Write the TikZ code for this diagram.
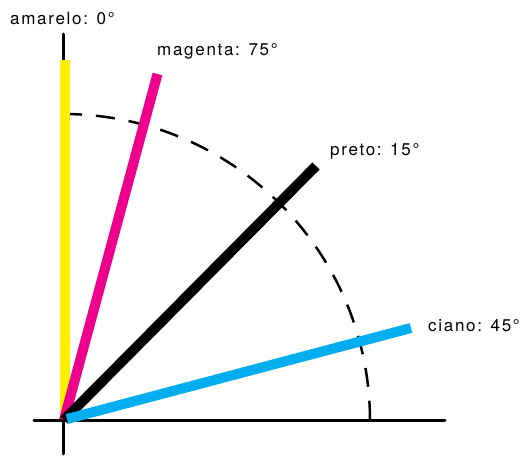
\documentclass[tikz,border=0pt]{standalone}
\usepackage{fontspec}
\setmainfont{TeX Gyre Heros}[LetterSpace=10]
\usetikzlibrary{positioning}
\definecolor{amarelo}{RGB}{255,240,0}
\definecolor{magenta}{RGB}{236,0,140}
\definecolor{ciano}{RGB}{0,174,239}
\tikzstyle{axis} = [line width=3pt, line cap=round]
\tikzstyle{screen} = [line width=10pt]
\tikzstyle{lbl} = [inner sep=0pt, anchor=base west, font=\fontsize{17}{19}\selectfont]

\begin{document}
\begin{tikzpicture}[x=1pt, y=-1pt]
	\useasboundingbox (0,0) rectangle (523,457);
	\coordinate (origin) at (64,420);
	\coordinate (x_end) at (445,421);
	\coordinate (x_start) at (34,421);
	\coordinate (y_end) at (63,34);
	\coordinate (y_start) at (63,454);
	\coordinate (yellow_end) at (64.5,60);
	\coordinate (magenta_end) at (157.5,74);
	\coordinate (black_end) at (316,166);
	\coordinate (cyan_end) at (411,328);
	% axes
	\draw [axis] (x_start) -- (x_end);
	\draw [axis] (y_start) -- (y_end);
	% reference arc
	\draw [line width=2.5pt, dash pattern=on 19pt off 14pt] (63,114) arc[start angle=-90, end angle=0, radius=307];
	% screen angles
	\draw [screen, amarelo] (64.5,419) -- (yellow_end);
	\draw [screen, magenta] (origin) -- (magenta_end);
	\draw [screen, black] (origin) -- (black_end);
	\draw [screen, ciano] (67,419) -- (cyan_end);
	% labels
	\node (amarelo_label) [lbl] at (10,25) {amarelo: 0°};
	\node (magenta_label) [lbl] at (157,56) {magenta: 75°};
	\node (preto_label) [lbl] at (330,156) {preto: 15°};
	\node (ciano_label) [lbl] at (428,332) {ciano: 45°};
\end{tikzpicture}
\end{document}
